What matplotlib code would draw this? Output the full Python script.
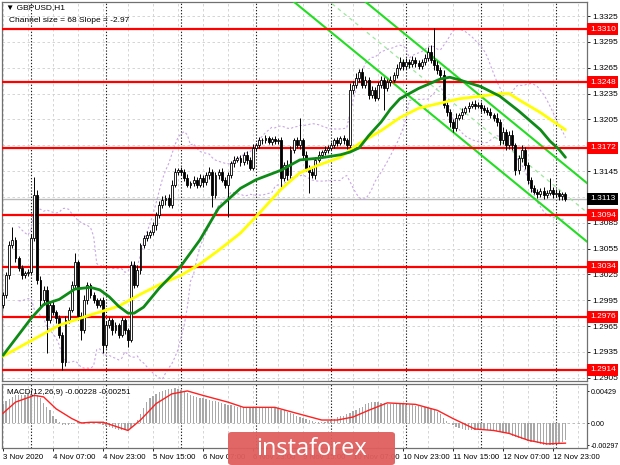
import matplotlib
matplotlib.use("Agg")
import matplotlib.pyplot as plt
import numpy as np
import pandas as pd
from matplotlib.patches import FancyBboxPatch

plt.rcParams["font.family"] = ["Liberation Sans", "DejaVu Sans"]

# ---------------- data ----------------
open_first = 1.2990
closes = [
    1.3001, 1.3024, 1.3059, 1.3065, 1.3044, 1.3032, 1.3024, 1.3027, 1.3028, 1.3067,
    1.3117, 1.3019, 1.2995, 1.3007, 1.2972, 1.2990, 1.2981, 1.2974, 1.2955, 1.2923,
    1.2972, 1.2984, 1.3013, 1.3039, 1.2977, 1.2960, 1.2995, 1.3013, 1.3001, 1.2995,
    1.2990, 1.2995, 1.2943, 1.2966, 1.2972, 1.2960, 1.2966, 1.2955, 1.2972, 1.2960,
    1.2949, 1.3036, 1.3013, 1.3030, 1.3059, 1.3067, 1.3071, 1.3074, 1.3082, 1.3094,
    1.3106, 1.3111, 1.3114, 1.3106, 1.3129, 1.3144, 1.3146, 1.3144, 1.3137, 1.3129,
    1.3131, 1.3135, 1.3129, 1.3137, 1.3132, 1.3140, 1.3144, 1.3117, 1.3140, 1.3144,
    1.3135, 1.3129, 1.3140, 1.3154, 1.3158, 1.3160, 1.3155, 1.3164, 1.3158, 1.3149,
    1.3172, 1.3175, 1.3181, 1.3181, 1.3183, 1.3179, 1.3182, 1.3180, 1.3181, 1.3137,
    1.3152, 1.3140, 1.3170, 1.3181, 1.3175, 1.3181, 1.3164, 1.3149, 1.3144, 1.3140,
    1.3158, 1.3164, 1.3167, 1.3170, 1.3172, 1.3175, 1.3181, 1.3178, 1.3183, 1.3181,
    1.3175, 1.3239, 1.3245, 1.3253, 1.3260, 1.3245, 1.3251, 1.3233, 1.3239, 1.3230,
    1.3245, 1.3251, 1.3241, 1.3248, 1.3251, 1.3257, 1.3265, 1.3272, 1.3267, 1.3272,
    1.3269, 1.3274, 1.3270, 1.3267, 1.3272, 1.3276, 1.3283, 1.3274, 1.3268, 1.3262,
    1.3257, 1.3222, 1.3214, 1.3202, 1.3195, 1.3207, 1.3210, 1.3214, 1.3218, 1.3221,
    1.3223, 1.3221, 1.3222, 1.3218, 1.3216, 1.3214, 1.3210, 1.3207, 1.3202, 1.3181,
    1.3190, 1.3175, 1.3187, 1.3175, 1.3146, 1.3160, 1.3170, 1.3152, 1.3135, 1.3125,
    1.3121, 1.3118, 1.3122, 1.3117, 1.3120, 1.3123, 1.3118, 1.3120, 1.3116, 1.3118,
    1.3113,
]
# wick lengths in pips above max(open, close) and below min(open, close)
wick_up_pips = [
    3, 4, 5, 15, 3, 2, 4, 2, 3, 5, 21, 6, 4, 5, 4, 3, 5, 3, 4, 3,
    5, 3, 4, 11, 3, 4, 6, 3, 2, 4, 3, 3, 4, 5, 3, 2, 4, 3, 3, 2,
    3, 5, 4, 6, 3, 4, 5, 3, 4, 3, 4, 5, 3, 4, 6, 5, 3, 4, 3, 5,
    3, 4, 3, 5, 3, 4, 6, 3, 4, 3, 5, 3, 4, 3, 5, 3, 4, 3, 4, 3,
    5, 3, 4, 3, 4, 3, 3, 4, 3, 4, 3, 6, 4, 3, 4, 26, 3, 4, 3, 5,
    3, 4, 3, 4, 3, 4, 3, 4, 3, 4, 3, 8, 5, 6, 4, 5, 4, 3, 5, 4,
    4, 5, 3, 4, 5, 3, 4, 5, 3, 4, 3, 5, 3, 4, 3, 5, 6, 8, 37, 5,
    4, 6, 4, 3, 4, 5, 3, 4, 3, 4, 3, 4, 3, 3, 4, 3, 4, 3, 5, 3,
    6, 4, 5, 6, 3, 4, 5, 3, 4, 3, 4, 3, 3, 4, 3, 14, 3, 4, 3, 3, 3,
]
wick_dn_pips = [
    4, 3, 4, 3, 5, 3, 4, 3, 4, 3, 3, 5, 8, 6, 38, 4, 3, 5, 4, 9,
    4, 3, 3, 4, 5, 11, 3, 4, 3, 3, 4, 3, 9, 4, 3, 5, 3, 4, 3, 4,
    8, 3, 4, 3, 4, 3, 3, 4, 3, 5, 3, 4, 5, 3, 4, 3, 4, 3, 4, 3,
    4, 3, 4, 3, 5, 3, 4, 14, 3, 4, 3, 4, 37, 3, 4, 3, 4, 3, 5, 3,
    3, 4, 3, 4, 3, 3, 4, 3, 3, 11, 4, 5, 3, 4, 3, 4, 5, 4, 24, 3,
    4, 3, 4, 3, 4, 3, 3, 4, 3, 4, 4, 3, 4, 3, 5, 4, 3, 4, 3, 4,
    3, 4, 25, 3, 4, 3, 4, 3, 4, 3, 4, 3, 4, 3, 3, 4, 3, 4, 5, 4,
    5, 4, 5, 6, 5, 4, 3, 4, 3, 4, 3, 4, 3, 4, 3, 4, 3, 4, 5, 6,
    4, 5, 4, 5, 6, 4, 5, 4, 5, 4, 3, 4, 3, 4, 3, 3, 4, 3, 4, 4, 3,
]

ma_fast_idx = [0, 9, 13, 18, 23, 28, 31, 34, 37, 40, 42, 45, 50, 57, 63, 69, 76, 81, 89, 95,
               101, 108, 111, 114, 117, 121, 124, 127, 133, 140, 143, 146, 153, 159, 165, 172,
               175, 178, 180]
ma_fast_val = [1.2931, 1.2974, 1.2990, 1.2996, 1.3008, 1.3010, 1.3007, 1.2999, 1.2988, 1.2980,
               1.2980, 1.2987, 1.3009, 1.3035, 1.3065, 1.3102, 1.3125, 1.3135, 1.3146, 1.3158,
               1.3160, 1.3164, 1.3167, 1.3172, 1.3186, 1.3202, 1.3217, 1.3229, 1.3241, 1.3252,
               1.3254, 1.3251, 1.3243, 1.3232, 1.3215, 1.3193, 1.3180, 1.3170, 1.3161]
ma_slow_idx = [0, 9, 18, 28, 37, 44, 50, 57, 63, 69, 76, 82, 89, 95, 101, 108, 114, 121, 127,
               133, 140, 146, 153, 159, 162, 165, 172, 180]
ma_slow_val = [1.2930, 1.2948, 1.2966, 1.2978, 1.2988, 1.3002, 1.3013, 1.3024, 1.3037, 1.3053,
               1.3073, 1.3096, 1.3124, 1.3143, 1.3152, 1.3161, 1.3177, 1.3192, 1.3207, 1.3218,
               1.3224, 1.3229, 1.3232, 1.3235, 1.3235, 1.3228, 1.3213, 1.3193]

levels = [1.3310, 1.3248, 1.3172, 1.3094, 1.3034, 1.2976, 1.2914]
last_price = 1.3113
price_ticks = [1.2905, 1.2935, 1.2965, 1.2995, 1.3025, 1.3055, 1.3085, 1.3145,
               1.3205, 1.3235, 1.3265, 1.3295, 1.3325]

channel_anchor_bar = 95
channel_anchor_low = 1.3336
channel_slope = -0.000297
channel_size = 0.0068

macd_hist = [
    0.0026, 0.0029, 0.0032, 0.0035, 0.0037, 0.0037, 0.0038, 0.0038, 0.0039, 0.0039,
    0.0039, 0.0037, 0.0033, 0.0027, 0.0022, 0.0017, 0.0010, 0.0006, 0.0002, -0.0002,
    -0.0003, -0.0002, -0.0001, 0.0000, 0.0001, 0.0001, 0.0001, 0.0001, 0.0001, 0.0001,
    0.0000, -0.0001, -0.0002, -0.0004, -0.0005, -0.0007, -0.0008, -0.0009, -0.0010, -0.0010,
    -0.0010, -0.0007, -0.0002, 0.0004, 0.0012, 0.0020, 0.0028, 0.0033, 0.0036, 0.0039,
    0.0041, 0.0043, 0.0044, 0.0045, 0.0046, 0.0047, 0.0046, 0.0044, 0.0042, 0.0040,
    0.0038, 0.0036, 0.0035, 0.0034, 0.0033, 0.0032, 0.0031, 0.0030, 0.0029, 0.0028,
    0.0027, 0.0025, 0.0024, 0.0024, 0.0023, 0.0022, 0.0022, 0.0021, 0.0021, 0.0021,
    0.0021, 0.0022, 0.0022, 0.0021, 0.0021, 0.0021, 0.0021, 0.0021, 0.0020, 0.0018,
    0.0017, 0.0015, 0.0014, 0.0012, 0.0010, 0.0008, 0.0007, 0.0006, 0.0004, 0.0003,
    0.0002, 0.0001, 0.0001, 0.0002, 0.0003, 0.0004, 0.0006, 0.0008, 0.0009, 0.0010,
    0.0012, 0.0014, 0.0016, 0.0018, 0.0020, 0.0022, 0.0025, 0.0027, 0.0028, 0.0028,
    0.0028, 0.0027, 0.0027, 0.0026, 0.0026, 0.0026, 0.0025, 0.0025, 0.0025, 0.0024,
    0.0024, 0.0024, 0.0023, 0.0023, 0.0022, 0.0021, 0.0020, 0.0019, 0.0017, 0.0015,
    0.0012, 0.0007, 0.0003, 0.0000, -0.0003, -0.0005, -0.0007, -0.0008, -0.0009, -0.0009,
    -0.0009, -0.0009, -0.0008, -0.0008, -0.0008, -0.0009, -0.0009, -0.0010, -0.0011, -0.0012,
    -0.0013, -0.0014, -0.0015, -0.0017, -0.0019, -0.0020, -0.0021, -0.0022, -0.0024, -0.0025,
    -0.0026, -0.0027, -0.0028, -0.0029, -0.0030, -0.0030, -0.0029, -0.0028, -0.0027, -0.0025,
    -0.0023,
]
macd_sig_idx = [0, 4, 10, 13, 17, 22, 25, 28, 32, 35, 40, 44, 49, 54, 59, 64, 72, 77, 87, 94,
                102, 107, 112, 117, 123, 132, 139, 144, 151, 157, 162, 168, 174, 180]
macd_sig_val = [0.0013, 0.0028, 0.0037, 0.0035, 0.0019, 0.0006, 0.0000, 0.0001, 0.0001, -0.0003,
                -0.0010, 0.0004, 0.0026, 0.0039, 0.0043, 0.0037, 0.0028, 0.0021, 0.0021, 0.0013,
                0.0004, 0.0004, 0.0008, 0.0017, 0.0027, 0.0025, 0.0017, 0.0006, -0.0008, -0.0010,
                -0.0014, -0.0023, -0.0028, -0.0027]
macd_ticks = [0.00429, 0.0, -0.00297]
macd_tick_labels = ["0.00429", "0.00", "-0.00297"]

time_label_bars = [0, 16, 32, 48, 64, 80, 96, 112, 128, 144, 160, 176]
time_labels = ["3 Nov 2020", "4 Nov 07:00", "4 Nov 23:00", "5 Nov 15:00", "6 Nov 07:00",
               "6 Nov 23:00", "9 Nov 15:00", "10 Nov 07:00", "10 Nov 23:00", "11 Nov 15:00",
               "12 Nov 07:00", "12 Nov 23:00"]
day_sep_bars = [9, 33, 57, 81, 105, 129, 153, 177]

# ---------------- derived ----------------
n = len(closes)
idx = np.arange(n)
c = np.array(closes)
o = np.concatenate([[open_first], c[:-1]])
hi = np.maximum(o, c) + np.array(wick_up_pips) * 0.0001
lo = np.minimum(o, c) - np.array(wick_dn_pips) * 0.0001
s = pd.Series(c)
bb_mid = s.rolling(20, min_periods=6).mean()
bb_std = s.rolling(20, min_periods=6).std(ddof=0)
bb_up = bb_mid + 2 * bb_std
bb_dn = bb_mid - 2 * bb_std

# ---------------- layout ----------------
W, H = 620, 465
fig = plt.figure(figsize=(6.2, 4.65), dpi=100)
fig.patch.set_facecolor("white")


def rect(x0, y0, x1, y1):
    return [x0 / W, 1 - y1 / H, (x1 - x0) / W, (y1 - y0) / H]


ax = fig.add_axes(rect(2, 2, 587, 381))
ax2 = fig.add_axes(rect(2, 384, 587, 448))
xl = (-0.32, 186.9)
for a in (ax, ax2):
    a.set_xlim(*xl)
    for sp in a.spines.values():
        sp.set_color("#707070")
        sp.set_linewidth(0.9)
ax.set_ylim(1.29012, 1.33414)
ax2.set_ylim(-0.00335, 0.00523)

grid_kw = dict(color="#cfcfcf", lw=0.6, dashes=(3, 3), zorder=0)
for t in price_ticks + [1.3115, 1.3175]:
    ax.axhline(t, **grid_kw)
for b in range(0, 187, 8):
    ax.axvline(b, **grid_kw)
    ax2.axvline(b, **grid_kw)
for b in day_sep_bars:
    ax.axvline(b, color="#202020", lw=0.8, dashes=(1.2, 1.6), zorder=1)
    ax2.axvline(b, color="#202020", lw=0.8, dashes=(1.2, 1.6), zorder=1)

# bid line
ax.axhline(last_price, color="#b8b8b8", lw=1.0, zorder=1)

# bollinger
ax.plot(idx, bb_up, color="#c9a6e6", lw=0.8, ls=(0, (2, 2)), zorder=2)
ax.plot(idx, bb_dn, color="#c9a6e6", lw=0.8, ls=(0, (2, 2)), zorder=2)

# channel
cx = np.array([80, 187])
low_line = channel_anchor_low + channel_slope * (cx - channel_anchor_bar)
ax.plot(cx, low_line, color="#22dd22", lw=1.5, zorder=3)
ax.plot(cx, low_line + channel_size, color="#22dd22", lw=1.5, zorder=3)
ax.plot(cx, low_line + channel_size / 2, color="#9be89b", lw=0.9, ls=(0, (3, 3)), zorder=3)

# red levels
for lv in levels:
    ax.axhline(lv, color="#ff0000", lw=1.6, zorder=3)

# candles
ax.vlines(idx, lo, hi, color="black", lw=0.7, zorder=4)
up = c >= o
body_h = np.maximum(np.abs(c - o), 0.00004)
ax.bar(idx[up], body_h[up], bottom=np.minimum(o, c)[up], width=0.62, color="white",
       edgecolor="black", linewidth=0.6, zorder=5)
ax.bar(idx[~up], body_h[~up], bottom=np.minimum(o, c)[~up], width=0.62, color="black",
       edgecolor="black", linewidth=0.6, zorder=5)

# moving averages
ax.plot(ma_slow_idx, ma_slow_val, color="#ffff00", lw=2.0, zorder=6, solid_capstyle="round")
ax.plot(ma_fast_idx, ma_fast_val, color="#0e8a16", lw=2.0, zorder=7, solid_capstyle="round")

# y axis on the right
ax.yaxis.tick_right()
ax.set_yticks(price_ticks)
ax.set_yticklabels([f"{t:.4f}" for t in price_ticks])
ax.tick_params(axis="y", length=2, labelsize=6, pad=1.5, colors="black", width=0.6)
ax.set_xticks([])
ytr = ax.get_yaxis_transform()
for lv in levels:
    ax.text(1.005, lv, f"{lv:.4f}", transform=ytr, ha="left", va="center", fontsize=6,
            color="white", zorder=10, clip_on=False,
            bbox=dict(boxstyle="square,pad=0.3", fc="#ff0000", ec="none"))
ax.text(1.005, last_price, f"{last_price:.4f}", transform=ytr, ha="left", va="center",
        fontsize=6, color="white", zorder=10, clip_on=False,
        bbox=dict(boxstyle="square,pad=0.3", fc="#000000", ec="none"))

fig.text(6 / W, 1 - 8 / H, "▼ GBPUSD,H1", fontsize=6, va="center", ha="left")
fig.text(9 / W, 1 - 20 / H, "Channel size = 68 Slope = -2.97", fontsize=6, va="center",
         ha="left")

# MACD panel
ax2.axhline(0, color="#b0b0b0", lw=0.6, dashes=(3, 3), zorder=1)
ax2.bar(idx, macd_hist, width=0.45, color="#a8a8a8", zorder=2)
ax2.plot(macd_sig_idx, macd_sig_val, color="#ff2020", lw=1.0, zorder=3)
ax2.yaxis.tick_right()
ax2.set_yticks(macd_ticks)
ax2.set_yticklabels(macd_tick_labels)
ax2.tick_params(axis="y", length=1.5, labelsize=5.1, pad=1, width=0.6)
ax2.set_xticks(time_label_bars)
ax2.set_xticklabels(time_labels, ha="left")
ax2.tick_params(axis="x", length=2, labelsize=5.7, pad=2, width=0.6)
ax2.text(0.008, 0.86, "MACD(12,26,9) -0.00228 -0.00251", transform=ax2.transAxes,
         fontsize=5.8, va="center", ha="left")

# watermark
wm = FancyBboxPatch((228 / W, 0), 167 / W, 33 / H, boxstyle="round,pad=0,rounding_size=0.006",
                    transform=fig.transFigure, fc="#e05f5f", ec="none", alpha=0.95, zorder=20)
fig.patches.append(wm)
fig.text(311 / W, 1 - 449 / H, "instaforex", fontsize=17, color="white", ha="center",
         va="center", zorder=21, family=["Open Sans", "DejaVu Sans"])

fig.savefig("out.png", dpi=100)
